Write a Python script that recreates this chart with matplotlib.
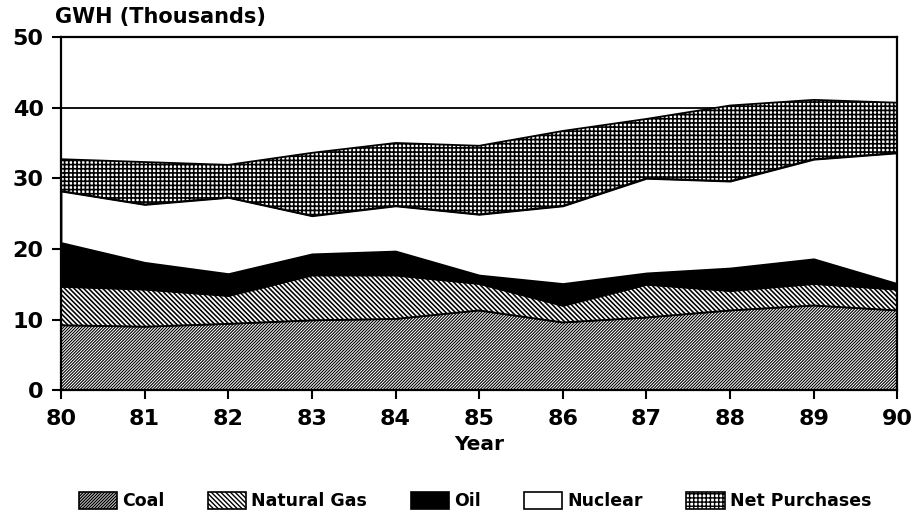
import numpy as np
import matplotlib
matplotlib.use("Agg")
from matplotlib import pyplot as plt
from matplotlib.patches import Patch

plt.rcParams['font.family'] = ['DejaVu Sans']
plt.rcParams['font.weight'] = 'bold'

years = [80, 81, 82, 83, 84, 85, 86, 87, 88, 89, 90]
# GWH (thousands)
coal = [9.2, 9.0, 9.4, 9.9, 10.1, 11.3, 9.6, 10.3, 11.3, 12.0, 11.3]
natural_gas = [5.5, 5.3, 4.0, 6.4, 6.2, 3.8, 2.4, 4.7, 2.8, 3.1, 3.0]
oil = [6.2, 3.8, 3.1, 3.0, 3.4, 1.2, 3.1, 1.6, 3.2, 3.5, 0.8]
nuclear = [7.3, 8.2, 10.8, 5.4, 6.4, 8.6, 11.0, 13.4, 12.3, 14.1, 18.5]
net_purchases = [4.5, 6.0, 4.6, 8.9, 8.9, 9.7, 10.6, 8.4, 10.7, 8.4, 7.1]

labels = ['Coal', 'Natural Gas', 'Oil', 'Nuclear', 'Net Purchases']
series = [coal, natural_gas, oil, nuclear, net_purchases]
faces = ['white', 'white', 'black', 'white', 'white']
# hatch spacing ~3 px for coal, ~4.5 px for gas, ~4 px grid for purchases
hatches = ['/' * 11, '\\' * 7, None, None, '++++']
hatch_lw = [0.8, 1.15, 1.0, 1.0, 1.2]

fig = plt.figure(figsize=(9.17, 5.21), dpi=100)
ax = fig.add_axes([0.0665, 0.251, 0.912, 0.678])

x = np.array(years)
bottom = np.zeros(len(years))
for vals, fc, h, hl in zip(series, faces, hatches, hatch_lw):
    top = bottom + np.array(vals)
    with plt.rc_context({'hatch.linewidth': hl}):
        ax.fill_between(x, bottom, top, facecolor=fc, edgecolor='black',
                        hatch=h, linewidth=1.3, zorder=2)
    bottom = top

ax.set_xlim(80, 90)
ax.set_ylim(0, 50)
ax.set_xticks(years)
ax.set_yticks([0, 10, 20, 30, 40, 50])
ax.grid(axis='y', color='black', linewidth=1.3, zorder=0)
ax.set_axisbelow(True)
ax.tick_params(axis='both', labelsize=16, width=1.5, length=6.5, direction='out')
ax.tick_params(axis='x', pad=7)
ax.tick_params(axis='y', pad=6)
for sp in ax.spines.values():
    sp.set_linewidth(1.6)

ax.set_xlabel('Year', fontsize=14.5, fontweight='bold', labelpad=4)
fig.text(0.06, 0.967, 'GWH (Thousands)', fontsize=15, fontweight='bold',
         ha='left', va='center')

handles = []
for fc, h, hl in zip(faces, hatches, hatch_lw):
    with plt.rc_context({'hatch.linewidth': hl}):
        handles.append(Patch(facecolor=fc, edgecolor='black', hatch=h, linewidth=1.2))
fig.legend(handles, labels, loc='center', bbox_to_anchor=(0.518, 0.038), ncol=5,
           frameon=False, fontsize=12.5, handlelength=2.2, handleheight=1.1,
           columnspacing=2.5, handletextpad=0.3, borderpad=0.1)

fig.savefig('out.png', dpi=100)
